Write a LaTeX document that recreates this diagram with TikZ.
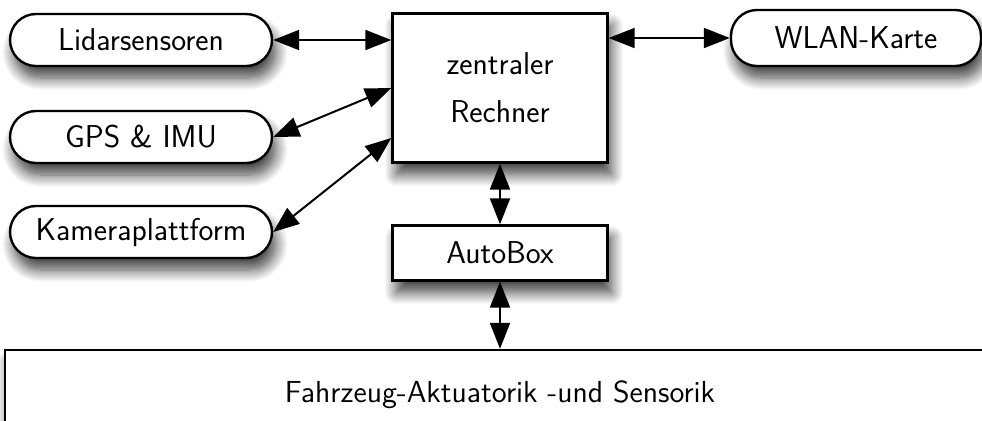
\documentclass[tikz,border=0pt]{standalone}
\usepackage{tikz}
\usetikzlibrary{arrows.meta,calc,shadows.blur}

\tikzset{
  box/.style={draw,line width=1.2pt,fill=white,font=\sffamily\fontsize{15.8}{19}\selectfont,
    blur shadow={shadow xshift=2pt,shadow yshift=-6pt,shadow blur radius=6pt,shadow blur steps=12,shadow opacity=75}},
  sensor/.style={box,rounded corners=13pt,minimum width=131pt,minimum height=26pt},
  unit/.style={box,minimum width=107.5pt},
  link/.style={{Triangle[length=13pt,width=10pt]}-{Triangle[length=13pt,width=10pt]},line width=1pt}
}

\begin{document}
\begin{tikzpicture}[x=0.5pt,y=0.5pt]
      \useasboundingbox (0,0) rectangle (982,-420);
      % sensors on the left, radio on the right
      \node[sensor] (lidar)  at (141,-40)  {Lidarsensoren};
      \node[sensor] (gps)    at (141,-137) {GPS \& IMU};
      \node[sensor] (kamera) at (141,-232) {Kameraplattform};
      \node[sensor,minimum width=125pt,minimum height=28pt] (wlan) at (856,-38) {WLAN-Karte};
      % central computer and the vehicle side
      \node[unit,minimum height=74.5pt,align=center] (rechner) at (500,-88) {zentraler\\[5pt]Rechner};
      \node[unit,minimum height=27.5pt] (autobox) at (500,-253) {AutoBox};
      \node[box,font=\sffamily\fontsize{15.2}{18}\selectfont,minimum width=495pt,minimum height=45pt] (fahrzeug) at (500,-395) {Fahrzeug-Aktuatorik -und Sensorik};
      \draw[link] (lidar.east) -- (rechner.west |- lidar.east);
      \draw[link] (gps.east) -- (rechner.west);
      \draw[link] (kamera.east) -- ($(rechner.west)+(0,-50)$);
      \draw[link] (wlan.west) -- (rechner.east |- wlan.west);
      \foreach \a/\b in {rechner/autobox,autobox/fahrzeug}{\draw[link] (\a.south) -- (\a.south |- \b.north);}
    \end{tikzpicture}
\end{document}
